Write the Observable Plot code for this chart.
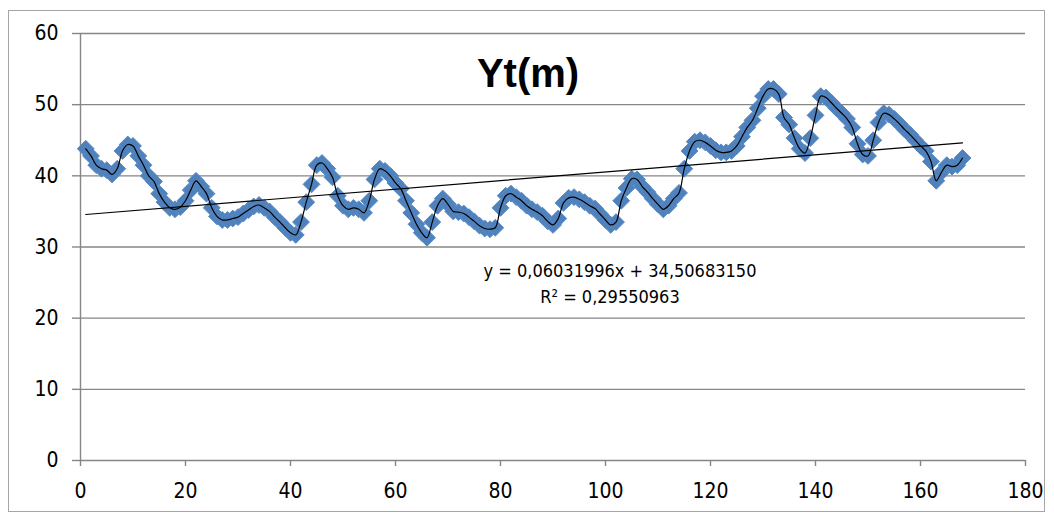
<!DOCTYPE html>
<html>
<head>
<meta charset="utf-8">
<script src="https://cdn.jsdelivr.net/npm/d3@7"></script>
<script src="https://cdn.jsdelivr.net/npm/@observablehq/plot@0.6"></script>
<style>
  html, body { margin: 0; padding: 0; background: #fff; }
  #wrap { position: relative; width: 1054px; height: 521px; overflow: hidden; }
  #frame { position: absolute; left: 8px; top: 10px; width: 1037px; height: 502px; border: 1px solid #a6a6a6; box-sizing: border-box; }
  #chart { position: absolute; left: 0; top: 0; }
</style>
</head>
<body>
<div id="wrap"><div id="frame"></div><div id="chart"></div></div>
<script>
const titleText = "Yt(m)";
const equationText = "y = 0,06031996x + 34,50683150";
const r2Text = "R² = 0,29550963";
const slope = 0.06031996;
const intercept = 34.50683150;

const xTicks = [0, 20, 40, 60, 80, 100, 120, 140, 160, 180];
const yTicks = [0, 10, 20, 30, 40, 50, 60];

const t = d3.range(1, 169);
const yt = [
  43.8, 42.8, 41.5, 41.0, 40.8, 40.2, 41.0, 43.5, 44.4, 44.2,
  42.8, 41.5, 40.0, 39.2, 37.5, 36.3, 35.5, 35.3, 35.6, 36.5,
  38.0, 39.3, 38.5, 37.5, 35.5, 34.3, 33.8, 33.8, 34.0, 34.2,
  34.7, 35.2, 35.7, 35.9, 35.5, 35.0, 34.2, 33.5, 32.7, 32.0,
  31.7, 33.5, 36.3, 38.8, 41.5, 41.8, 41.0, 39.8, 37.2, 35.8,
  35.3, 35.5, 35.3, 34.8, 36.5, 39.5, 41.0, 40.7, 40.0, 39.0,
  38.2, 36.5, 34.8, 33.2, 32.0, 31.3, 33.5, 35.8, 36.8, 36.0,
  35.0, 34.9, 34.7, 34.2, 33.6, 33.0, 32.6, 32.5, 32.7, 35.5,
  37.2, 37.5, 37.0, 36.5, 35.8, 35.3, 34.9, 34.4, 33.6, 33.1,
  34.0, 36.2, 36.9, 37.0, 36.7, 36.3, 35.8, 35.4, 34.6, 33.8,
  33.1, 33.5, 36.5, 38.3, 39.6, 39.5, 38.5, 37.7, 36.8, 36.0,
  35.3, 35.8, 36.8, 37.6, 41.0, 43.5, 44.8, 45.0, 44.7, 44.2,
  43.6, 43.3, 43.3, 43.5, 44.2, 45.5, 46.8, 47.8, 49.5, 51.2,
  52.2, 52.2, 51.5, 48.2, 47.2, 45.3, 43.8, 43.2, 45.3, 48.5,
  51.2, 51.0, 50.3, 49.5, 48.8, 48.0, 46.8, 44.5, 43.0, 42.8,
  45.0, 47.5, 48.8, 48.6, 48.0, 47.3, 46.5, 45.8, 45.0, 44.2,
  43.5, 42.0, 39.3, 40.5, 41.5, 41.3, 41.5, 42.5
];

const data = t.map((x, i) => ({x, y: yt[i]}));
const trend = [d3.min(t), d3.max(t)].map(x => ({x, y: intercept + slope * x}));

const axisGray = "#868686";
const tickFont = "'Liberation Sans Narrow', 'DejaVu Sans Condensed', 'Arial Narrow', sans-serif";

const chart = Plot.plot({
  width: 1054,
  height: 521,
  marginLeft: 80,
  marginRight: 29,
  marginTop: 33,
  marginBottom: 61,
  style: {fontFamily: tickFont, fontSize: "21px", color: "#000", background: "transparent"},
  x: {domain: [0, 180]},
  y: {domain: [0, 60]},
  marks: [
    Plot.ruleY(yTicks.filter(d => d > 0), {stroke: axisGray, strokeWidth: 1.4}),
    Plot.ruleX([0], {stroke: axisGray, strokeWidth: 1.4}),
    Plot.ruleY([0], {stroke: axisGray, strokeWidth: 1.4}),
    Plot.axisY({ticks: yTicks, tickSize: 8, tickPadding: 14, stroke: axisGray, strokeWidth: 1.4, label: null, fontSize: 21}),
    Plot.axisX({ticks: xTicks, tickSize: 6, tickPadding: 17, stroke: axisGray, strokeWidth: 1.4, label: null, fontSize: 21}),
    Plot.dot(data, {x: "x", y: "y", symbol: "diamond2", r: 7.6, fill: "#4f81bd", stroke: "#5a8ac4", strokeWidth: 1}),
    Plot.line(data, {x: "x", y: "y", stroke: "#000", strokeWidth: 1.2, curve: "catmull-rom"}),
    Plot.line(trend, {x: "x", y: "y", stroke: "#000", strokeWidth: 1.2}),
    Plot.text([titleText], {frameAnchor: "top", lineAnchor: "middle", dx: -25, dy: 41, fontSize: 40, fontWeight: "bold", fontFamily: "'Liberation Sans', Arial, sans-serif", fill: "#000"}),
    Plot.text([equationText], {frameAnchor: "top", lineAnchor: "middle", dx: 67, dy: 238, fontSize: 18, fill: "#000"}),
    Plot.text([r2Text], {frameAnchor: "top", lineAnchor: "middle", dx: 57, dy: 264, fontSize: 18, fill: "#000"})
  ]
});
document.getElementById("chart").appendChild(chart);
</script>
</body>
</html>
